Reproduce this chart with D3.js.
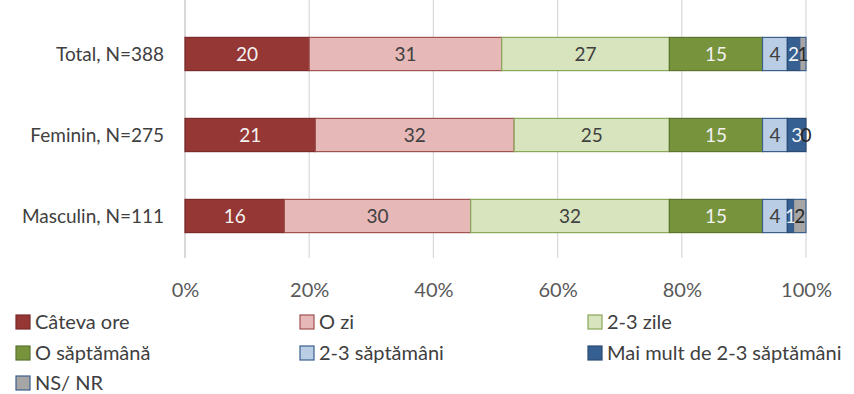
<!DOCTYPE html>
<html>
<head>
<meta charset="utf-8">
<script src="https://cdn.jsdelivr.net/npm/d3@7"></script>
<style>
  html, body { margin: 0; padding: 0; background: #fff; }
  svg { display: block; font-family: Lato, "Open Sans", sans-serif; }
</style>
</head>
<body>
<svg id="chart" width="854" height="394"></svg>
<script>
// Categories (top to bottom)
const categories = ["Total, N=388", "Feminin, N=275", "Masculin, N=111"];
// Response options (stack order, left to right)
const seriesNames = ["Câteva ore", "O zi", "2-3 zile", "O săptămână", "2-3 săptămâni", "Mai mult de 2-3 săptămâni", "NS/ NR"];
// Percent values per category, in series order
const totalValues    = [20, 31, 27, 15, 4, 2, 1];
const femininValues  = [21, 32, 25, 15, 4, 3, 0];
const masculinValues = [16, 30, 32, 15, 4, 1, 2];
const tickValues = [0, 20, 40, 60, 80, 100];
const tickLabels = ["0%", "20%", "40%", "60%", "80%", "100%"];

const fills   = ["#953735", "#E6B9B8", "#D7E4BD", "#77933C", "#B9CDE5", "#376092", "#A6A6A6"];
const strokes = ["#7a2b2a", "#a05250", "#8aa75a", "#5c7430", "#3c5f8c", "#2a4a74", "#3c5f8c"];
const labelColors = ["#f2f2f2", "#404040", "#404040", "#f2f2f2", "#404040", "#f2f2f2", "#262626"];

const rows = [totalValues, femininValues, masculinValues].map((vals, i) => {
  const r = { category: categories[i] };
  seriesNames.forEach((s, j) => r[s] = vals[j]);
  return r;
});

const svg = d3.select("#chart");
const x = d3.scaleLinear().domain([0, 100]).range([185, 806]);
const y = d3.scaleBand().domain(categories).range([13.5, 256.5]).paddingInner(0.59).paddingOuter(0.295);

// Gridlines
svg.append("g")
  .selectAll("line")
  .data(tickValues.slice(1))
  .join("line")
  .attr("x1", d => x(d)).attr("x2", d => x(d))
  .attr("y1", 0).attr("y2", 258)
  .attr("stroke", "#d9d9d9").attr("stroke-width", 1.2);

// Category axis line
svg.append("line")
  .attr("x1", x(0)).attr("x2", x(0))
  .attr("y1", 0).attr("y2", 258)
  .attr("stroke", "#bfbfbf").attr("stroke-width", 1.2);

// Stacked bars
const stack = d3.stack().keys(seriesNames)(rows);
const layers = svg.append("g").selectAll("g")
  .data(stack)
  .join("g")
  .attr("fill", (d, i) => fills[i])
  .attr("stroke", (d, i) => strokes[i]);

layers.selectAll("rect")
  .data(d => d.map(p => ({ p, key: d.key })))
  .join("rect")
  .attr("x", d => x(d.p[0]))
  .attr("y", d => y(d.p.data.category))
  .attr("width", d => x(d.p[1]) - x(d.p[0]))
  .attr("height", y.bandwidth())
  .attr("stroke-width", 1.2);

// Value labels
svg.append("g").selectAll("g")
  .data(stack)
  .join("g")
  .attr("fill", (d, i) => labelColors[i])
  .selectAll("text")
  .data(d => d.map(p => ({ p, key: d.key })))
  .join("text")
  .attr("x", d => (x(d.p[0]) + x(d.p[1])) / 2)
  .attr("y", d => y(d.p.data.category) + y.bandwidth() / 2)
  .attr("dy", "0.36em")
  .attr("text-anchor", "middle")
  .attr("font-size", 19)
  .text(d => d.p.data[d.key]);

// Category labels
svg.append("g").selectAll("text")
  .data(categories)
  .join("text")
  .attr("x", 164)
  .attr("y", d => y(d) + y.bandwidth() / 2)
  .attr("dy", "0.36em")
  .attr("text-anchor", "end")
  .attr("font-size", 19)
  .attr("fill", "#404040")
  .text(d => d);

// Percent axis
const xAxis = d3.axisBottom(x).tickValues(tickValues).tickFormat((d, i) => tickLabels[i]).tickSize(0).tickPadding(0);
const gx = svg.append("g").attr("transform", "translate(0,283)").call(xAxis);
gx.select(".domain").remove();
gx.selectAll("text").attr("font-size", 20).attr("fill", "#595959").attr("font-family", "Lato, Open Sans, sans-serif");

// Legend
const legendCols = [16, 300, 588];
const legendRows = [322, 353, 383];
const legend = svg.append("g").selectAll("g")
  .data(seriesNames)
  .join("g")
  .attr("transform", (d, i) => `translate(${legendCols[i % 3]},${legendRows[Math.floor(i / 3)]})`);
legend.append("rect")
  .attr("x", 0).attr("y", -7)
  .attr("width", 14).attr("height", 14)
  .attr("fill", (d, i) => fills[i])
  .attr("stroke", (d, i) => strokes[i])
  .attr("stroke-width", 1.2);
legend.append("text")
  .attr("x", 19).attr("y", 0).attr("dy", "0.36em")
  .attr("font-size", 20)
  .attr("fill", "#404040")
  .text(d => d);
</script>
</body>
</html>
